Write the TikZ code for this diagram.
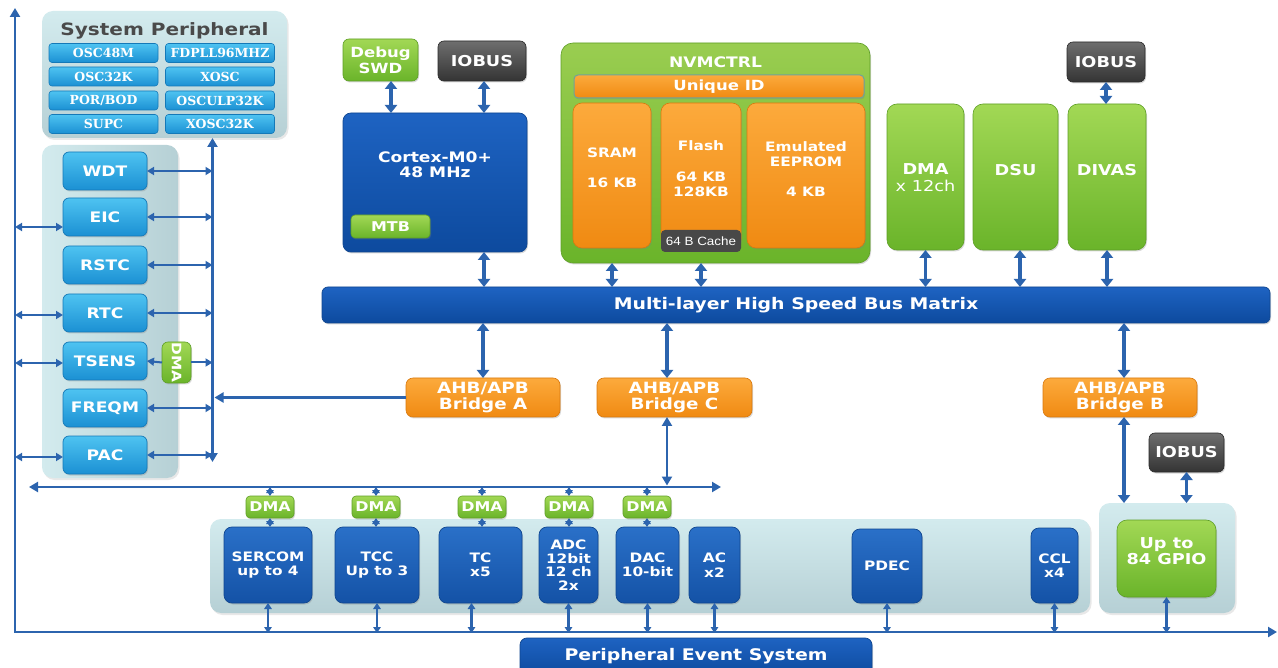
\documentclass[tikz,border=0pt]{standalone}
\usepackage{fontspec}
\setmainfont{DejaVu Sans}[FakeStretch=1.18]
\newfontfamily\serfont{DejaVu Serif}
\newfontfamily\cachefont{Liberation Sans}[FakeStretch=1.12]
\usetikzlibrary{arrows.meta,shadows}
\definecolor{arrc}{HTML}{2C64AE}
\definecolor{contT}{HTML}{D3EBEE}
\definecolor{contB}{HTML}{B6D0D5}
\definecolor{cyT}{HTML}{4EC3F1}
\definecolor{cyB}{HTML}{1B90D3}
\definecolor{cyD}{HTML}{1479B8}
\definecolor{blT}{HTML}{2A70C8}
\definecolor{blB}{HTML}{1452A6}
\definecolor{blD}{HTML}{0F4690}
\definecolor{cxT}{HTML}{1E63C2}
\definecolor{cxB}{HTML}{0D4A9E}
\definecolor{grT}{HTML}{A2D855}
\definecolor{grB}{HTML}{6AB42A}
\definecolor{grD}{HTML}{5E9F25}
\definecolor{orT}{HTML}{FCAA3C}
\definecolor{orB}{HTML}{F08A12}
\definecolor{orD}{HTML}{D9790E}
\definecolor{gyT}{HTML}{6E6E6E}
\definecolor{gyB}{HTML}{343434}
\definecolor{gyD}{HTML}{2A2A2A}
\definecolor{titlec}{HTML}{4A4A4A}
\definecolor{uidD}{HTML}{6FA39A}
\newcommand\fsz[2]{\fontsize{#1}{#2}\selectfont\bfseries}
\begin{document}
\begin{tikzpicture}[x=1pt,y=-1pt,
 >={Triangle[length=9pt,width=10pt]},
 every node/.style={inner sep=0pt, outer sep=0pt, align=center, text=white},
 shd/.style={drop shadow={shadow xshift=1pt, shadow yshift=-1.5pt, opacity=0.3}},
 cont/.style={rounded corners=11pt, top color=contT, bottom color=contB, draw=none,
   drop shadow={shadow xshift=1.5pt, shadow yshift=-2pt, opacity=0.18}},
 cyanbox/.style={rounded corners=6pt, top color=cyT, bottom color=cyB, draw=cyD, line width=0.7pt, shd,
   minimum width=84pt, minimum height=38pt, font=\fsz{14.5}{16}},
 subbox/.style={rounded corners=3pt, top color=cyT, bottom color=cyB, draw=cyD, line width=0.6pt,
   minimum width=109pt, minimum height=19pt, font=\serfont\fontsize{12.5}{13}\selectfont\bfseries},
 bluebox/.style={rounded corners=8pt, top color=blT, bottom color=blB, draw=blD, line width=0.7pt, shd,
   font=\fsz{13}{14.5}},
 greenbox/.style={rounded corners=6pt, top color=grT, bottom color=grB, draw=grD, line width=0.6pt, shd,
   font=\fsz{14}{16}},
 orangebox/.style={rounded corners=7pt, top color=orT, bottom color=orB, draw=orD, line width=0.6pt, shd,
   font=\fsz{13}{15}},
 graybox/.style={rounded corners=6pt, top color=gyT, bottom color=gyB, draw=gyD, line width=0.6pt, shd,
   font=\fsz{15}{16}},
 big/.style={draw=arrc, line width=3.5pt, {Triangle[length=8pt,width=12pt]}-{Triangle[length=8pt,width=12pt]}},
 arw/.style={draw=arrc, line width=2pt, {Triangle[length=7pt,width=8pt]}-{Triangle[length=7pt,width=8pt]}},
 arwone/.style={draw=arrc, line width=2pt, -{Triangle[length=7pt,width=8pt]}},
 sarw/.style={draw=arrc, line width=2.2pt, {Triangle[length=6pt,width=7.5pt]}-{Triangle[length=6pt,width=7.5pt]}},
 mainln/.style={draw=arrc, line width=2.8pt}]
\useasboundingbox[fill=white] (0,0) rectangle (1278,668);

% ---------- containers ----------
\node[cont, minimum width=245pt, minimum height=127pt] (sysp) at (164.5,74.5) {};
\node[cont, minimum width=136pt, minimum height=333pt, left color=contT, right color=contB] (leftc) at (110,311.5) {};
\node[cont, minimum width=880pt, minimum height=94pt] (perc) at (650,566) {};
\node[cont, minimum width=136pt, minimum height=110pt] (gpioc) at (1167,558) {};

% ---------- system peripheral ----------
\node[font=\fsz{17}{19}, text=titlec] (syspt) at (164.5,31) {System Peripheral};
\node[subbox] (osc48) at (103.5,53) {OSC48M};
\node[subbox] (fdpll) at (220,53) {FDPLL96MHZ};
\node[subbox] (osc32) at (103.5,76.5) {OSC32K};
\node[subbox] (xosc) at (220,76.5) {XOSC};
\node[subbox] (porbod) at (103.5,100.5) {POR/BOD};
\node[subbox] (osculp) at (220,100.5) {OSCULP32K};
\node[subbox] (supc) at (103.5,124) {SUPC};
\node[subbox] (xosc32) at (220,124) {XOSC32K};

% ---------- left column ----------
\node[cyanbox] (wdt) at (105,171) {WDT};
\node[cyanbox] (eic) at (105,217) {EIC};
\node[cyanbox] (rstc) at (105,265) {RSTC};
\node[cyanbox] (rtc) at (105,313) {RTC};
\node[cyanbox] (tsens) at (105,361) {TSENS};
\node[cyanbox] (freqm) at (105,408) {FREQM};
\node[cyanbox] (pac) at (105,455) {PAC};
\node[greenbox, minimum width=29pt, minimum height=41pt] (dmat) at (176.5,362.5) {};
\node[rotate=-90, font=\fsz{13}{14}] (dmatx) at (dmat) {DMA};

% ---------- core / memories ----------
\node[greenbox, minimum width=75pt, minimum height=42pt] (dbg) at (380.5,60) {Debug\\SWD};
\node[graybox, minimum width=88pt, minimum height=40pt] (iob1) at (482,61) {IOBUS};
\node[bluebox, minimum width=184pt, minimum height=139pt, top color=cxT, bottom color=cxB] (cortex) at (435,182.5) {};
\node[font=\fsz{14.5}{15}] (cortext) at (435,165) {Cortex-M0+\\48 MHz};
\node[greenbox, minimum width=79pt, minimum height=23pt, rounded corners=4pt, font=\fsz{13.5}{14}] (mtb) at (390.5,226.5) {MTB};

\node[greenbox, rounded corners=12pt, minimum width=309pt, minimum height=220pt, top color=grT!95!black, bottom color=grB] (nvm) at (715.5,153) {};
\node[font=\fsz{14.5}{16}] (nvmt) at (715.5,62) {NVMCTRL};
\node[orangebox, draw=uidD, line width=1pt, rounded corners=4pt, minimum width=290pt, minimum height=23pt, font=\fsz{14}{15}] (uid) at (719,86.5) {Unique ID};
\node[orangebox, rounded corners=9pt, minimum width=78pt, minimum height=145pt] (sram) at (612,175.5) {};
\node[orangebox, rounded corners=9pt, minimum width=80pt, minimum height=145pt] (flash) at (701,175.5) {};
\node[orangebox, rounded corners=9pt, minimum width=118pt, minimum height=145pt] (eeprom) at (806,175.5) {};
\node[font=\fsz{13}{15}] (sramt) at (612,168) {SRAM\\[15pt]16 KB};
\node[font=\fsz{13}{15}] (flasht) at (701,169) {Flash\\[16pt]64 KB\\128KB};
\node[font=\fsz{13}{15}] (eepromt) at (806,169.5) {Emulated\\EEPROM\\[15pt]4 KB};
\node[rounded corners=4pt, fill=gyB!90!white, minimum width=80pt, minimum height=22pt, font=\cachefont\fontsize{12}{13}\selectfont] (cache) at (701,241) {64 B Cache};

\node[greenbox, rounded corners=10pt, minimum width=77pt, minimum height=146pt] (dmac) at (925.5,177) {};
\node[greenbox, rounded corners=10pt, minimum width=85pt, minimum height=146pt] (dsu) at (1015.5,177) {};
\node[greenbox, rounded corners=10pt, minimum width=78pt, minimum height=146pt] (divas) at (1107,177) {};
\node[font=\fsz{15}{17}] (dmact) at (925.5,178) {DMA\\{\fontseries{m}\selectfont x 12ch}};
\node[font=\fsz{15}{17}] (dsut) at (1015.5,170) {DSU};
\node[font=\fsz{15}{17}] (divast) at (1107,170) {DIVAS};
\node[graybox, minimum width=78pt, minimum height=40pt] (iob2) at (1106,62) {IOBUS};

% ---------- bus and bridges ----------
\node[bluebox, rounded corners=6pt, minimum width=948pt, minimum height=36pt, top color=cxT, bottom color=cxB, font=\fsz{16}{17}] (bus) at (796,305) {Multi-layer High Speed Bus Matrix};
\node[orangebox, minimum width=154pt, minimum height=39pt, font=\fsz{15.5}{16}] (bra) at (483,397.5) {AHB/APB\\Bridge A};
\node[orangebox, minimum width=155pt, minimum height=39pt, font=\fsz{15.5}{16}] (brc) at (674.5,397.5) {AHB/APB\\Bridge C};
\node[orangebox, minimum width=154pt, minimum height=39pt, font=\fsz{15.5}{16}] (brb) at (1120,397.5) {AHB/APB\\Bridge B};
\node[graybox, minimum width=75pt, minimum height=39pt] (iob3) at (1186.5,452.5) {IOBUS};

% ---------- bottom peripherals ----------
\node[bluebox, minimum width=88pt, minimum height=76pt] (sercom) at (268,565) {SERCOM\\up to 4};
\node[bluebox, minimum width=84pt, minimum height=76pt] (tcc) at (377,565) {TCC\\Up to 3};
\node[bluebox, minimum width=83pt, minimum height=76pt] (tc) at (480.5,565) {TC\\x5};
\node[bluebox, minimum width=59pt, minimum height=76pt, font=\fsz{13}{13.5}] (adc) at (568.5,565) {ADC\\12bit\\12 ch\\2x};
\node[bluebox, minimum width=63pt, minimum height=76pt] (dac) at (647.5,565) {DAC\\10-bit};
\node[bluebox, minimum width=51pt, minimum height=76pt] (ac) at (714.5,565) {AC\\x2};
\node[bluebox, minimum width=70pt, minimum height=74pt] (pdec) at (887,566) {PDEC};
\node[bluebox, minimum width=47pt, minimum height=75pt] (ccl) at (1054.5,565.5) {CCL\\x4};
\node[greenbox, rounded corners=10pt, minimum width=99pt, minimum height=77pt] (gpio) at (1166.5,558.5) {};
\node[font=\fsz{15}{15.5}] (gpiot) at (1166.5,551) {Up to\\84 GPIO};

\node[greenbox, rounded corners=4pt, minimum width=48pt, minimum height=22pt, font=\fsz{13.5}{14}] (dma1) at (270,507) {DMA};
\node[greenbox, rounded corners=4pt, minimum width=48pt, minimum height=22pt, font=\fsz{13.5}{14}] (dma2) at (376,507) {DMA};
\node[greenbox, rounded corners=4pt, minimum width=48pt, minimum height=22pt, font=\fsz{13.5}{14}] (dma3) at (482,507) {DMA};
\node[greenbox, rounded corners=4pt, minimum width=48pt, minimum height=22pt, font=\fsz{13.5}{14}] (dma4) at (569,507) {DMA};
\node[greenbox, rounded corners=4pt, minimum width=48pt, minimum height=22pt, font=\fsz{13.5}{14}] (dma5) at (647,507) {DMA};

\node[bluebox, rounded corners=7pt, minimum width=352pt, minimum height=38pt, top color=cxT, bottom color=cxB, font=\fsz{16}{17}] (pes) at (696,657) {};
\node[font=\fsz{16}{17}] (pest) at (696,656) {Peripheral Event System};

% ---------- line coordinates ----------
\coordinate (ltop) at (15,8);
\coordinate (lcorner) at (15,632);
\coordinate (rend) at (1277,632);
\coordinate (rl) at (212.5,0);
\coordinate (rlbot) at (212.5,462);
\coordinate (hl1) at (29,487);
\coordinate (hl2) at (721,487);
\coordinate (brcx) at (667,487);
\coordinate (dbgx) at (391,0);
\coordinate (brbx) at (1124,0);
\coordinate (dsux) at (1020,0);

% main lines
\draw[mainln,<->] (ltop) -- (lcorner) -- (rend);
\draw[mainln,<->] (sysp.south -| rl) -- (rlbot);
\draw[mainln,<->] (hl1) -- (hl2);
\draw[mainln,->] (bra.west) -- ([xshift=2pt]bra.west -| rl);
\draw[mainln,<->] (brc.south -| brcx) -- ([yshift=1.5pt]brcx);

% left column arrows to right line
\foreach \n in {wdt,eic,rstc,rtc,freqm,pac}
  \draw[arw] (\n.east) -- (\n.east -| rl);
\draw[arwone] (dmat.west) -- (tsens.east);
\draw[arwone] (dmat.east) -- (dmat.east -| rl);
% left column arrows to left line
\draw[arw] ([yshift=-10pt]eic.west -| lcorner) -- ([yshift=-10pt]eic.west);
\foreach \n in {rtc,tsens,pac}
  \draw[arw] ([yshift=-2pt]\n.west -| lcorner) -- ([yshift=-2pt]\n.west);

% top big arrows
\draw[big] (dbg.south -| dbgx) -- (cortex.north -| dbgx);
\draw[big] ([xshift=2pt]iob1.south) -- ([xshift=2pt]cortex.north -| iob1.south);
\draw[big] ([xshift=2pt]cortex.south -| iob1.south) -- ([xshift=2pt]bus.north -| iob1.south);
\draw[big] (nvm.south -| sram.south) -- (bus.north -| sram.south);
\draw[big] (nvm.south -| flash.south) -- (bus.north -| flash.south);
\draw[big] (dmac.south) -- (bus.north -| dmac.south);
\draw[big] (dsu.south -| dsux) -- (bus.north -| dsux);
\draw[big] (divas.south) -- (bus.north -| divas.south);
\draw[big] (iob2.south) -- (divas.north -| iob2.south);
\draw[big] (bus.south -| bra.north) -- (bra.north);
\draw[big] (bus.south -| brcx) -- (brc.north -| brcx);
\draw[big] (bus.south -| brbx) -- (brb.north -| brbx);
\draw[big] (brb.south -| brbx) -- (gpioc.north -| brbx);
\draw[big] (iob3.south) -- (gpioc.north -| iob3.south);

% bottom row arrows
\foreach \n in {dma1,dma2,dma3,dma4,dma5}
  \draw[sarw] (\n.north |- hl1) -- (\n.north);
\draw[sarw] (dma1.south) -- (sercom.north -| dma1.south);
\draw[sarw] (dma2.south) -- (tcc.north -| dma2.south);
\draw[sarw] (dma3.south) -- (tc.north -| dma3.south);
\draw[sarw] (dma4.south) -- (adc.north -| dma4.south);
\draw[sarw] (dma5.south) -- (dac.north -| dma5.south);
\foreach \n in {sercom,tcc,adc,dac,ac,pdec,ccl,gpio}
  \draw[sarw] (\n.south) -- ([yshift=-1pt]\n.south |- lcorner);
\draw[sarw] ([xshift=-9pt]tc.south) -- ([xshift=-9pt,yshift=-1pt]tc.south |- lcorner);
\end{tikzpicture}
\end{document}
